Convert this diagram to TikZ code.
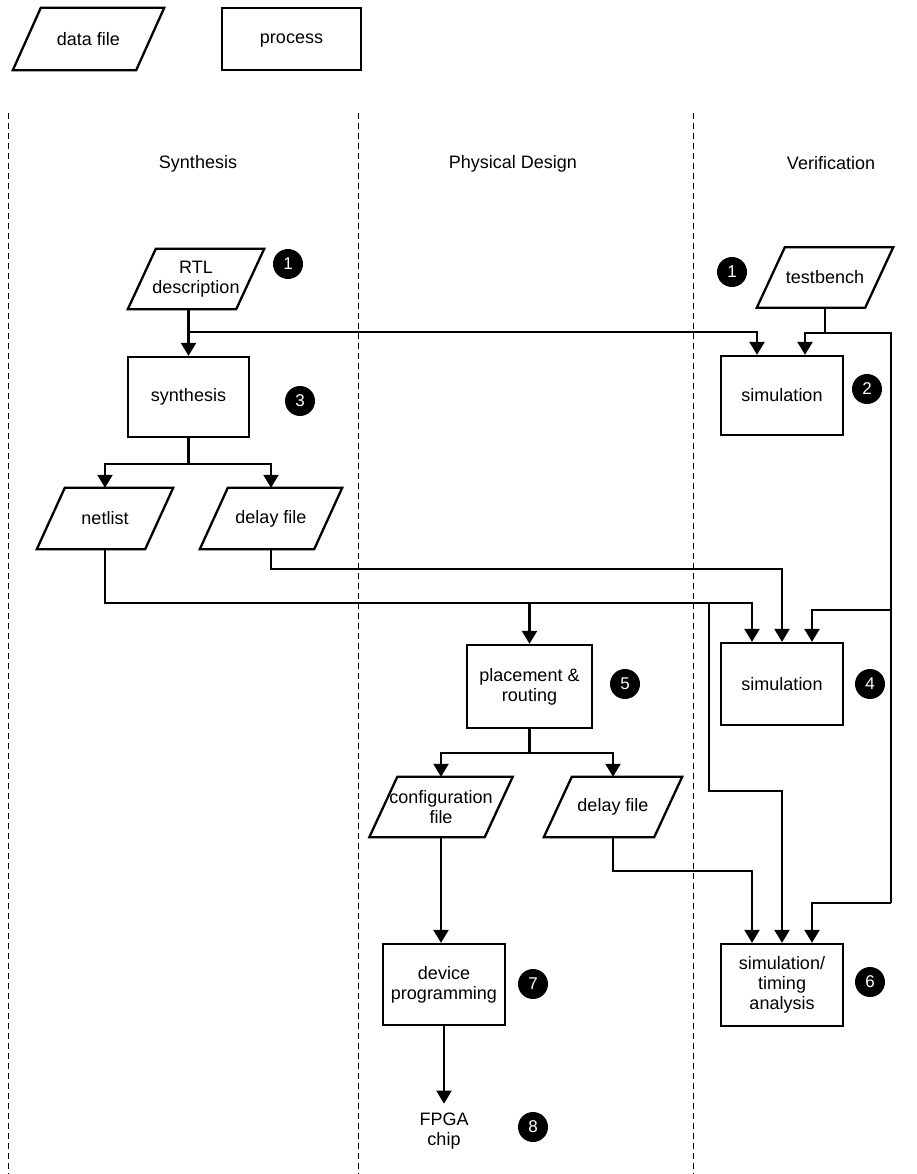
\documentclass[tikz,border=0pt]{standalone}
\usepackage{fontspec}
\setmainfont{Liberation Sans}
\usetikzlibrary{arrows.meta,calc}

% parallelogram outline around a data-file node (slant of 28pt)
\newcommand\datashape[1]{%
  \draw[outline] ([xshift=-14pt]#1.south west) -- ([xshift=14pt]#1.north west)
    -- ([xshift=14pt]#1.north east) -- ([xshift=-14pt]#1.south east) -- cycle;}

\tikzset{
  txt/.style={font=\fontsize{18}{20}\selectfont, align=center, inner sep=0pt},
  outline/.style={line width=2.3pt, line join=miter},
  flow/.style={line width=2.3pt},
  arr/.style={flow, -{Triangle[width=15pt,length=13pt]}},
  procbox/.style={txt, draw, outline, minimum width=122pt, minimum height=81pt},
  filenode/.style={txt, minimum width=110pt, minimum height=60pt},
  badge/.style={circle, fill=black, text=white, minimum size=30pt, inner sep=0pt,
    font=\fontsize{17}{17}\selectfont},
  lane/.style={line width=0.9pt, dash pattern=on 6pt off 4pt},
  heading/.style={txt},
}

\begin{document}
\begin{tikzpicture}[x=1pt,y=-1pt]
\useasboundingbox (0,0) rectangle (916,1174);

% lane separators
\foreach \x in {8,358,693} \draw[lane] (\x,113) -- (\x,1174);

% key
\node[filenode, minimum width=123pt, minimum height=62pt] (keyfile) at (88.5,39) {data file};
\datashape{keyfile}
\node[procbox, minimum width=139pt, minimum height=62pt, text depth=1pt] (keyproc) at (291.5,39) {process};

% lane headings
\node[heading] (hsyn) at (198,164) {Synthesis};
\node[heading] (hphy) at (513,164) {Physical Design};
\node[heading] (hver) at (831,163) {Verification};

% data files
\node[filenode, minimum width=108pt] (rtl) at (196,279) {RTL\\description};
\datashape{rtl}
\node[filenode, minimum width=108pt] (tb) at (825,277.5) {testbench};
\datashape{tb}
\node[filenode, minimum width=108pt, minimum height=61pt] (net) at (105,518.5) {netlist};
\datashape{net}
\node[filenode, minimum width=114pt, minimum height=61pt] (dly1) at (271,518.5) {delay file};
\datashape{dly1}
\node[filenode, minimum width=115pt] (cfg) at (441,807) {configuration\\file};
\datashape{cfg}
\node[filenode, minimum width=110pt] (dly2) at (613,807) {delay file};
\datashape{dly2}

% processes
\node[procbox, minimum width=121pt, minimum height=80pt] (syn) at (188.5,397) {synthesis};
\node[procbox, minimum height=79pt] (sim2) at (782,395.5) {simulation};
\node[procbox, minimum width=125pt, minimum height=83pt] (pr) at (529.5,686.5) {placement \&\\routing};
\node[procbox, minimum height=82pt] (sim4) at (782,684) {simulation};
\node[procbox] (dev) at (444,984.5) {device\\programming};
\node[procbox, minimum height=82pt] (sim6) at (782,985) {simulation/\\timing\\analysis};
\node[txt] (fpga) at (444,1131) {FPGA\\chip};

% step numbers
\node[badge] (n1a) at (288,264) {1};
\node[badge] (n1b) at (732,272) {1};
\node[badge] (n2) at (867,389) {2};
\node[badge] (n3) at (300,401) {3};
\node[badge] (n4) at (870,684) {4};
\node[badge] (n5) at (625,684) {5};
\node[badge] (n6) at (870,982) {6};
\node[badge] (n7) at (533,984) {7};
\node[badge] (n8) at (533,1127) {8};

% arrival points on the simulation boxes
\coordinate (s2a) at ($(sim2.north)+(-25,0)$);
\coordinate (s2b) at ($(sim2.north)+(23,0)$);
\coordinate (s4a) at ($(sim4.north)+(-30,0)$);
\coordinate (s4c) at ($(sim4.north)+(30,0)$);
\coordinate (s6a) at ($(sim6.north)+(-30,0)$);
\coordinate (s6c) at ($(sim6.north)+(30,0)$);

% junctions
\coordinate (j1) at ($(syn.north)+(0,-24)$);
\coordinate (j2) at ($(tb.south)+(0,25)$);
\coordinate (t1) at ($(j2)+(66,0)$);
\coordinate (t2) at ($(sim4.north)+(109,-32)$);
\coordinate (t3) at ($(sim6.north)+(109,-40)$);
\coordinate (j3) at ($(syn.south)+(0,26)$);
\coordinate (nl) at ($(net.south)+(0,54)$);
\coordinate (k6) at ($(sim6.north)+(-73,-152)$);
\coordinate (j4) at ($(pr.south)+(0,24)$);

% RTL description to synthesis and to first simulation
\draw[arr] (rtl.south -| syn.north) -- (syn.north);
\draw[arr] (j1) -| (s2a);

% testbench to every simulation
\draw[flow] (tb.south) -- (j2);
\draw[arr] (j2) -| (s2b);
\draw[flow] (j2) -- (t1) -- (t3);
\draw[arr] (t2) -| (s4c);
\draw[arr] (t3) -| (s6c);

% synthesis outputs
\draw[flow] (syn.south) -- (j3);
\draw[arr] (j3) -| (net.north);
\draw[arr] (j3) -| (dly1.north);

% delay file to simulation 4
\draw[arr] (dly1.south) -- ++(0,20) -| (sim4.north);

% netlist to simulation 4, placement and timing analysis
\draw[arr] (net.south) -- (nl) -| (s4a);
\draw[arr] (nl -| pr.north) -- (pr.north);
\draw[arr] (nl -| k6) -- (k6) -| (sim6.north);

% placement & routing outputs
\draw[flow] (pr.south) -- (j4);
\draw[arr] (j4) -| (cfg.north);
\draw[arr] (j4) -| (dly2.north);

% post-layout delay file to timing analysis
\draw[arr] (dly2.south) -- ++(0,34) -| (s6a);

% configuration file to device programming to chip
\draw[arr] (cfg.south) -- (cfg.south |- dev.north);
\draw[arr] (dev.south) -- ([yshift=9pt]fpga.north);
\end{tikzpicture}
\end{document}
